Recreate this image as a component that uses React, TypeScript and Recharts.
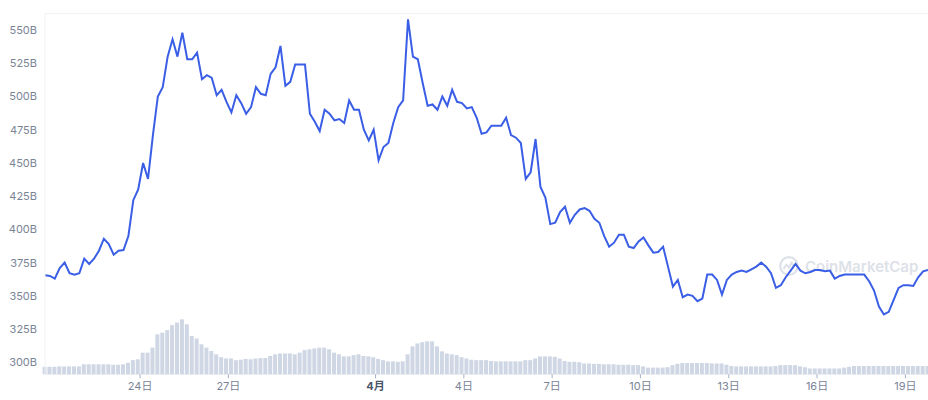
import {
  Bar,
  CartesianGrid,
  ComposedChart,
  Line,
  XAxis,
  YAxis,
} from "recharts";

const THEME = {
  line: "#3a5ee6",
  volume: "#cfd6e4",
  grid: "#eff2f5",
  axis: "#7a8496",
  axisStrong: "#4a5568",
  watermark: "#dde1e8",
};

// price samples, every 4 hours, in billions
const START_DAY = 20.77;
const STEP = 1 / 6;

const PRICE = [
  365.5, 365, 363, 371, 375, 367, 366, 367, 378, 374,
  378, 384, 393, 389, 381, 384, 384.5, 395, 422, 430,
  450, 438, 471, 500, 507, 530, 543, 530, 548, 528,
  528, 533, 513, 516, 514, 501, 505, 496, 488, 501,
  495, 487, 492, 507, 502, 501, 517, 522, 538, 508,
  511, 524, 524, 524, 487, 481, 474, 490, 487, 482,
  483, 480, 497, 490, 490, 475, 467, 475, 452, 462,
  465, 480, 492, 497, 558, 530, 528, 510, 493, 494,
  490, 500, 493, 505, 496, 495, 491, 492, 484, 472,
  473, 478, 478, 478, 484, 471, 469, 465, 438, 443,
  468, 432, 424, 404, 405, 413, 417, 405, 411, 415,
  416, 414, 408, 405, 395, 387, 390, 396, 396, 387,
  386, 391, 394, 388, 382.5, 383, 387, 372, 357, 362,
  349, 351, 350, 346, 348, 366, 366, 362, 351, 362,
  366, 368, 369, 368, 370, 372, 375, 372, 367, 356,
  358, 364, 369, 374, 369, 367, 368, 369.5, 369.5, 368.5,
  369, 363, 365, 366, 366, 366, 366, 366, 361, 354,
  342, 336, 338, 347, 356, 358, 358, 357.5, 364, 368.5,
  369.5,
];

const VOLUME = [
  9, 9, 9, 9.5, 9.5, 9.5, 9.5, 9.5, 12, 12,
  12, 12, 12, 12, 11.5, 11.5, 12, 14, 17, 18,
  26, 26, 32, 48, 50, 53, 59, 62, 66, 60,
  46, 43, 36, 32, 28, 24, 20.5, 19, 19, 17,
  17.5, 18.5, 18, 19, 19.5, 19.5, 22, 24, 25, 25,
  25, 24, 26, 29, 30, 31, 32, 32, 30, 26,
  24, 21.5, 21.5, 23, 24, 22, 21.5, 20.5, 18.5, 17,
  15.5, 15.5, 15, 15.5, 24, 33.5, 37, 38.5, 39.5, 39.5,
  33.5, 27.5, 25, 24, 23, 20.5, 19, 17.5, 17, 17,
  17, 16, 15.5, 15.5, 15.5, 15.5, 15.5, 15.5, 17, 17,
  19, 21.5, 21.5, 21.5, 21, 19, 16, 15, 15, 14.5,
  13, 13, 12.5, 12.5, 12, 12, 12, 11.5, 11.5, 11.5,
  11, 11, 9.5, 8, 8, 8, 8, 8.5, 11, 12.5,
  13.5, 13.5, 13.5, 13.5, 13.5, 13.5, 13, 13, 13, 11.5,
  10, 9.5, 9.5, 9.5, 9.5, 9.5, 9.5, 9.5, 9.5, 10,
  11, 11, 11, 11, 9.5, 8.5, 7, 7, 7, 7,
  7, 7, 7, 8, 9, 10, 10, 10, 10, 10,
  10, 10, 10, 10, 10, 10, 10, 10, 10, 10,
  10,
];

const X_TICKS = [24, 27, 32, 35, 38, 41, 44, 47, 50];
const X_LABELS = ["24日", "27日", "4月", "4日", "7日", "10日", "13日", "16日", "19日"];
const Y_TICKS = [300, 325, 350, 375, 400, 425, 450, 475, 500, 525, 550];

const data = PRICE.map((price, i) => ({
  t: START_DAY + i * STEP,
  price,
  volume: VOLUME[i],
}));

const FONT = "Inter, 'Noto Sans CJK JP', sans-serif";

function DayTick(props: any) {
  const { x, y, payload } = props;
  const idx = X_TICKS.indexOf(payload.value);
  const label = X_LABELS[idx] ?? "";
  const month = label.endsWith("月");
  return (
    <text
      x={x}
      y={y}
      dy="0.71em"
      textAnchor="middle"
      fontSize={11}
      fontFamily={FONT}
      fontWeight={month ? 700 : 400}
      fill={month ? THEME.axisStrong : THEME.axis}
    >
      {label}
    </text>
  );
}

function Watermark() {
  return (
    <div
      style={{
        position: "absolute",
        left: 779,
        top: 256,
        display: "flex",
        alignItems: "center",
        gap: 6,
        color: THEME.watermark,
        fontFamily: FONT,
        fontSize: 15,
        fontWeight: 600,
      }}
    >
      <svg width={20} height={20} viewBox="0 0 20 20">
        <circle cx={10} cy={10} r={8.8} fill="none" stroke={THEME.watermark} strokeWidth={2.2} />
        <path
          d="M4.5 13 L7.5 8.5 L10 12 L12.5 6.5 L15.5 11"
          fill="none"
          stroke={THEME.watermark}
          strokeWidth={2}
          strokeLinejoin="round"
        />
      </svg>
      <span>CoinMarketCap</span>
    </div>
  );
}

export default function App() {
  return (
    <div style={{ position: "absolute", left: 0, top: 0, width: 928, height: 400 }}>
      <Watermark />
      <div style={{ position: "absolute", left: 0, top: 0 }}>
        <ComposedChart
          width={928}
          height={400}
          data={data}
          margin={{ top: 13.4, right: 0, left: 0, bottom: 0 }}
        >
          <CartesianGrid stroke={THEME.grid} vertical={false} />
          <XAxis
            dataKey="t"
            type="number"
            domain={[START_DAY, START_DAY + 30]}
            ticks={X_TICKS}
            height={25.7}
            axisLine={false}
            tickLine={{ stroke: "#a6b0c3" }}
            tickSize={4}
            tickMargin={4}
            tick={<DayTick />}
            interval={0}
          />
          <YAxis
            yAxisId="price"
            width={45}
            domain={[291, 562.5]}
            ticks={Y_TICKS}
            axisLine={{ stroke: THEME.grid }}
            tickLine={false}
            tickFormatter={(v: number) => `${v}B`}
            tick={{ fill: THEME.axis, fontSize: 11, fontFamily: FONT }}
          />
          <YAxis yAxisId="volume" orientation="right" hide domain={[0, 433]} />
          <Bar
            yAxisId="volume"
            dataKey="volume"
            fill={THEME.volume}
            barSize={4}
            isAnimationActive={false}
          />
          <Line
            yAxisId="price"
            dataKey="price"
            type="linear"
            stroke={THEME.line}
            strokeWidth={2}
            dot={false}
            isAnimationActive={false}
          />
        </ComposedChart>
      </div>
    </div>
  );
}
